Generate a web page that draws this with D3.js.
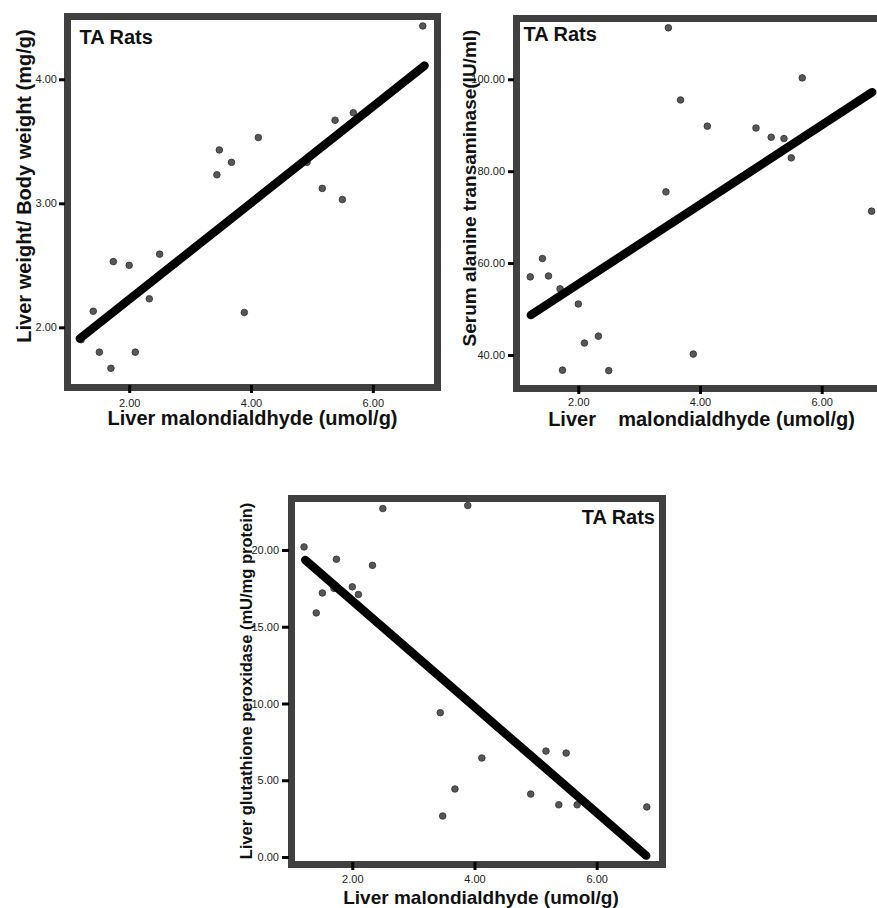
<!DOCTYPE html>
<html>
<head>
<meta charset="utf-8">
<script src="https://cdn.jsdelivr.net/npm/d3@7/dist/d3.min.js"></script>
<style>
    body { margin: 0; background: #fff; }
    svg { display: block; font-family: Arial, "Liberation Sans", Helvetica, sans-serif; }
</style>
</head>
<body>
<div class="chart"></div>
<script>
// liver malondialdhyde (umol/g), one value per rat
var mda = [1.21, 1.41, 1.51, 1.70, 1.74, 2.00, 2.10, 2.33, 2.50, 3.44,
           3.48, 3.68, 3.89, 4.12, 4.92, 5.17, 5.38, 5.50, 5.68, 6.82];

// liver weight / body weight (mg/g)
var liverRatio = [1.90, 2.13, 1.80, 1.67, 2.53, 2.50, 1.80, 2.23, 2.59, 3.23,
                  3.43, 3.33, 2.12, 3.53, 3.33, 3.12, 3.67, 3.03, 3.73, 4.43];

// serum alanine transaminase (IU/ml)
var alt = [57.0, 61.0, 57.2, 54.4, 36.7, 51.1, 42.6, 44.1, 36.6, 75.5,
           111.2, 95.5, 40.2, 89.8, 89.4, 87.4, 87.1, 82.9, 100.3, 71.3];

// liver glutathione peroxidase (mU/mg protein)
var gpx = [20.2, 15.9, 17.2, 17.5, 19.4, 17.6, 17.1, 19.0, 22.7, 9.4,
           2.67, 4.43, 22.9, 6.45, 4.1, 6.9, 3.4, 6.77, 3.4, 3.26];

// fit line end points [mda, value]
var liverRatioFit = [[1.19, 1.91], [6.85, 4.11]];
var altFit = [[1.22, 48.7], [6.83, 97.2]];
var gpxFit = [[1.23, 19.35], [6.81, 0.09]];

var xTicks = [2, 4, 6];
var liverRatioTicks = [2, 3, 4];
var altTicks = [40, 60, 80, 100];
var gpxTicks = [0, 5, 10, 15, 20];

var xTitle = "Liver malondialdhyde (umol/g)";
var xTitleWide = "Liver    malondialdhyde (umol/g)";
var groupLabel = "TA Rats";

(function () {

    var svg = d3.select('.chart').append('svg')
        .attr('width', 877)
        .attr('height', 908);

    var frameColor = '#404040';
    var fmt = d3.format('.2f');

    // one scatter panel: frame box, scales, axes and labels
    function panel(o) {
        var g = svg.append('g');

        var x = d3.scaleLinear().domain(o.xDomain).range([o.left, o.left + o.width]);
        var y = d3.scaleLinear().domain(o.yDomain).range([o.top + o.height, o.top]);

        // points
        g.selectAll('circle.pt')
            .data(o.values.map(function (v, i) { return [mda[i], v]; }))
            .enter().append('circle')
            .attr('class', 'pt')
            .attr('cx', function (d) { return x(d[0]); })
            .attr('cy', function (d) { return y(d[1]); })
            .attr('r', 3.3)
            .attr('fill', '#575757')
            .attr('stroke', '#2e2e2e')
            .attr('stroke-width', 0.8);

        // fit line, drawn thick like the original
        g.append('path')
            .datum(o.fit)
            .attr('d', d3.line().x(function (d) { return x(d[0]); }).y(function (d) { return y(d[1]); }))
            .attr('stroke', '#000')
            .attr('stroke-width', 8.5)
            .attr('stroke-linecap', 'round')
            .attr('fill', 'none');

        // frame
        g.append('rect')
            .attr('x', o.left)
            .attr('y', o.top)
            .attr('width', o.width)
            .attr('height', o.height)
            .attr('fill', 'none')
            .attr('stroke', frameColor)
            .attr('stroke-width', 7);

        // y axis
        var ya = g.append('g')
            .attr('transform', 'translate(' + (o.left - 2.5) + ',0)')
            .call(d3.axisLeft(y).tickValues(o.yTicks).tickFormat(fmt)
                .tickSize(o.yTickSize).tickPadding(o.yPad));

        // x axis
        var xa = g.append('g')
            .attr('transform', 'translate(0,' + (o.top + o.height - 2.5) + ')')
            .call(d3.axisBottom(x).tickValues(xTicks).tickFormat(fmt)
                .tickSize(8).tickPadding(o.xPad));

        [ya, xa].forEach(function (a) {
            a.select('.domain').remove();
            a.selectAll('.tick line').attr('stroke', '#000').attr('stroke-width', 3);
            a.selectAll('.tick text')
                .attr('fill', '#222')
                .attr('font-size', 11)
                .attr('font-family', 'Arial, "Liberation Sans", sans-serif');
        });

        // axis titles
        g.append('text')
            .attr('x', o.left + o.width / 2 + o.xTitleShift)
            .attr('y', o.xTitleY)
            .attr('text-anchor', 'middle')
            .attr('font-size', o.xTitleSize)
            .attr('font-weight', 'bold')
            .attr('fill', '#111')
            .style('white-space', 'pre')
            .text(o.xTitle);

        g.append('text')
            .attr('transform', 'translate(' + o.yTitleX + ',' + o.yTitleY + ') rotate(-90)')
            .attr('text-anchor', 'middle')
            .attr('font-size', o.yTitleSize)
            .attr('font-weight', 'bold')
            .attr('fill', '#111')
            .text(o.yTitle);

        // group label
        g.append('text')
            .attr('x', o.labelX)
            .attr('y', o.labelY)
            .attr('text-anchor', o.labelAnchor)
            .attr('font-size', 20)
            .attr('font-weight', 'bold')
            .attr('fill', '#111')
            .text(groupLabel);
    }

    panel({
        left: 67.5, top: 16.5, width: 370, height: 371,
        xDomain: [0.987, 7.062], yDomain: [1.515, 4.506],
        values: liverRatio, fit: liverRatioFit, yTicks: liverRatioTicks,
        yTickSize: 6, yPad: 2, xPad: 6,
        xTitle: xTitle, xTitleShift: 0, xTitleY: 425, xTitleSize: 20,
        yTitle: 'Liver weight/ Body weight (mg/g)', yTitleX: 31, yTitleY: 186, yTitleSize: 20,
        labelX: 79.5, labelY: 43.5, labelAnchor: 'start'
    });

    panel({
        left: 516.5, top: 18.5, width: 370, height: 370,
        xDomain: [0.984, 7.065], yDomain: [32.71, 113.23],
        values: alt, fit: altFit, yTicks: altTicks,
        yTickSize: 6, yPad: 3, xPad: 4,
        xTitle: xTitleWide, xTitleShift: 0, xTitleY: 426, xTitleSize: 20,
        yTitle: 'Serum alanine transaminase(IU/ml)', yTitleX: 476, yTitleY: 188, yTitleSize: 19,
        labelX: 523.5, labelY: 40.5, labelAnchor: 'start'
    });

    panel({
        left: 291.5, top: 498.5, width: 371, height: 366,
        xDomain: [1.005, 7.077], yDomain: [-0.489, 23.355],
        values: gpx, fit: gpxFit, yTicks: gpxTicks,
        yTickSize: 7, yPad: 3, xPad: 5,
        xTitle: xTitle, xTitleShift: 4, xTitleY: 904, xTitleSize: 19,
        yTitle: 'Liver glutathione peroxidase (mU/mg protein)', yTitleX: 252, yTitleY: 681, yTitleSize: 16.5,
        labelX: 655, labelY: 523.5, labelAnchor: 'end'
    });

}());
</script>
</body>
</html>
